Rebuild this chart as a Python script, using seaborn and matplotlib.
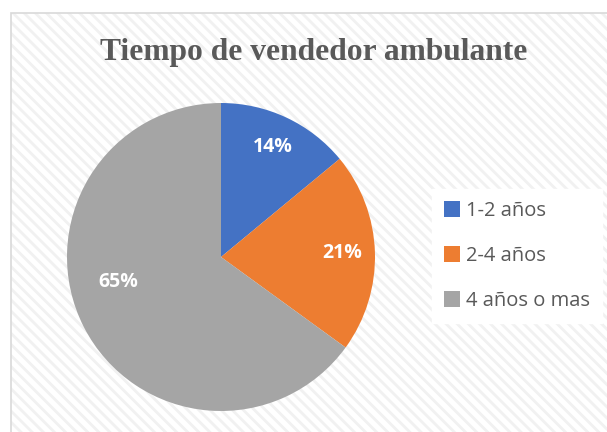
import matplotlib
matplotlib.use("Agg")
import matplotlib.pyplot as plt
import seaborn as sns
from matplotlib.patches import Rectangle

# datos del grafico
categorias = ['1-2 años', '2-4 años', '4 años o mas']
porcentajes = [14, 21, 65]
colores = ['#4472C4', '#ED7D31', '#A5A5A5']
titulo = 'Tiempo de vendedor ambulante'

sns.set_theme(style='white')
plt.rcParams['hatch.linewidth'] = 2.0

fig = plt.figure(figsize=(6.07, 4.32), dpi=100)
fig.patch.set_facecolor('white')

# fondo con rayas diagonales y borde del area del grafico
fondo = Rectangle((10.5 / 607, 0), 1.0, 1 - 12.5 / 432, transform=fig.transFigure,
                  facecolor='white', edgecolor='#f1f1f1', hatch='\\\\\\', linewidth=0,
                  zorder=-2)
fig.patches.append(fondo)
borde = Rectangle((10.5 / 607, -0.01), 1.0, 1.01 - 12.5 / 432, transform=fig.transFigure,
                  facecolor='none', edgecolor='#d9d9d9', linewidth=1.2, zorder=-1)
fig.patches.append(borde)

ax = fig.add_axes([67 / 607, 21 / 432, 308 / 607, 308 / 432])
ax.set_zorder(2)
ax.patch.set_visible(False)
palette = sns.color_palette(colores)
wedges, textos, autotextos = ax.pie(
    porcentajes, colors=palette, startangle=90, counterclock=False,
    autopct='%1.0f%%', pctdistance=0.79,
    wedgeprops={'linewidth': 0},
    textprops={'color': 'white', 'fontsize': 14, 'fontweight': 'bold',
               'family': 'Open Sans'})
ax.set_xlim(-1, 1)
ax.set_ylim(-1, 1)
ax.set_aspect('equal')
ax.axis('off')
# etiqueta de 65% mas cerca del centro como en Excel
autotextos[2].set_position((-0.67, -0.16))

fig.text(0.516, 0.878, titulo, ha='center', va='center', fontsize=22.7,
         fontweight='bold', family='Liberation Serif', color='#595959')

leg = fig.legend(wedges, categorias, loc='center left',
                 bbox_to_anchor=(432 / 607, 1 - 256 / 432),
                 frameon=True, fancybox=False, framealpha=1,
                 facecolor='white', edgecolor='white',
                 prop={'family': 'Open Sans', 'size': 14.5},
                 labelspacing=1.25, handlelength=0.8, handleheight=0.8,
                 handletextpad=0.3, borderpad=0.6, borderaxespad=0)
leg.set_zorder(3)
for t in leg.get_texts():
    t.set_color('#595959')

fig.savefig('out.png', dpi=100)
